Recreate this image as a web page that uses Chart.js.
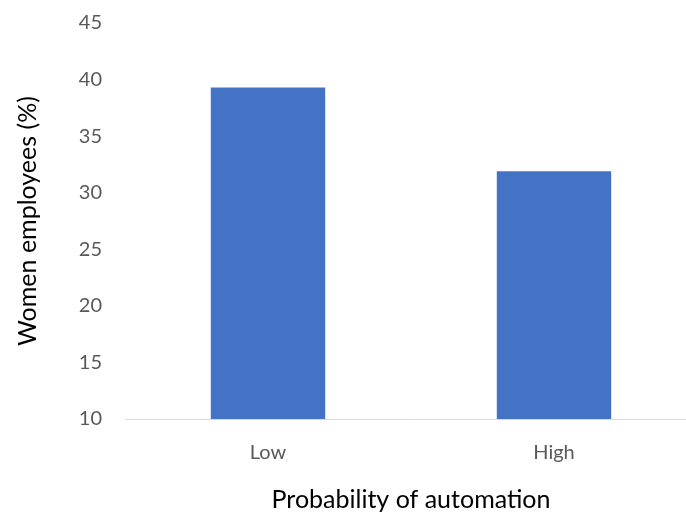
<!DOCTYPE html>
<html>
<head>
<meta charset="utf-8">
<script src="https://cdn.jsdelivr.net/npm/chart.js@4/dist/chart.umd.min.js"></script>
<style>
html,body{margin:0;padding:0;background:#fff;overflow:hidden;}
#wrap{width:697px;height:515px;}
</style>
</head>
<body>
<div id="wrap"><canvas id="c" width="697" height="515"></canvas></div>
<script>
const categories = ['Low', 'High'];
const womenPct = [39.3, 31.9];
const yTicks = [10, 15, 20, 25, 30, 35, 40, 45];

const FONT = 'Lato, "Open Sans", sans-serif';

new Chart(document.getElementById('c'), {
  type: 'bar',
  data: {
    labels: categories,
    datasets: [{
      data: womenPct,
      backgroundColor: '#4472C4',
      borderWidth: 0,
      barPercentage: 0.4,
      categoryPercentage: 1.0
    }]
  },
  options: {
    responsive: false,
    animation: false,
    devicePixelRatio: 1,
    layout: { padding: { top: 23, right: 0, left: 0, bottom: 0 } },
    plugins: { legend: { display: false }, tooltip: { enabled: false } },
    scales: {
      x: {
        grid: { display: false, drawTicks: false },
        border: { display: true, color: '#d9d9d9', width: 1 },
        ticks: { color: '#595959', font: { family: FONT, size: 20 }, padding: 22 },
        title: { display: true, text: 'Probability of automation', color: '#000', font: { family: FONT, size: 25 }, padding: { top: 10, bottom: 0 } },
        afterFit: s => { s.height = 96; }
      },
      y: {
        min: 10, max: 45,
        afterBuildTicks: s => { s.ticks = yTicks.map(v => ({ value: v })); },
        grid: { display: true, drawOnChartArea: false, drawTicks: true, tickLength: 20, tickColor: 'rgba(0,0,0,0)' },
        border: { display: false },
        ticks: { color: '#595959', font: { family: FONT, size: 20 }, padding: 3 },
        title: { display: true, text: 'Women employees (%)', color: '#000', font: { family: FONT, size: 25 }, padding: { top: 13, bottom: 0 } },
        afterFit: s => { s.width = 125; }
      }
    }
  }
});
</script>
</body>
</html>
